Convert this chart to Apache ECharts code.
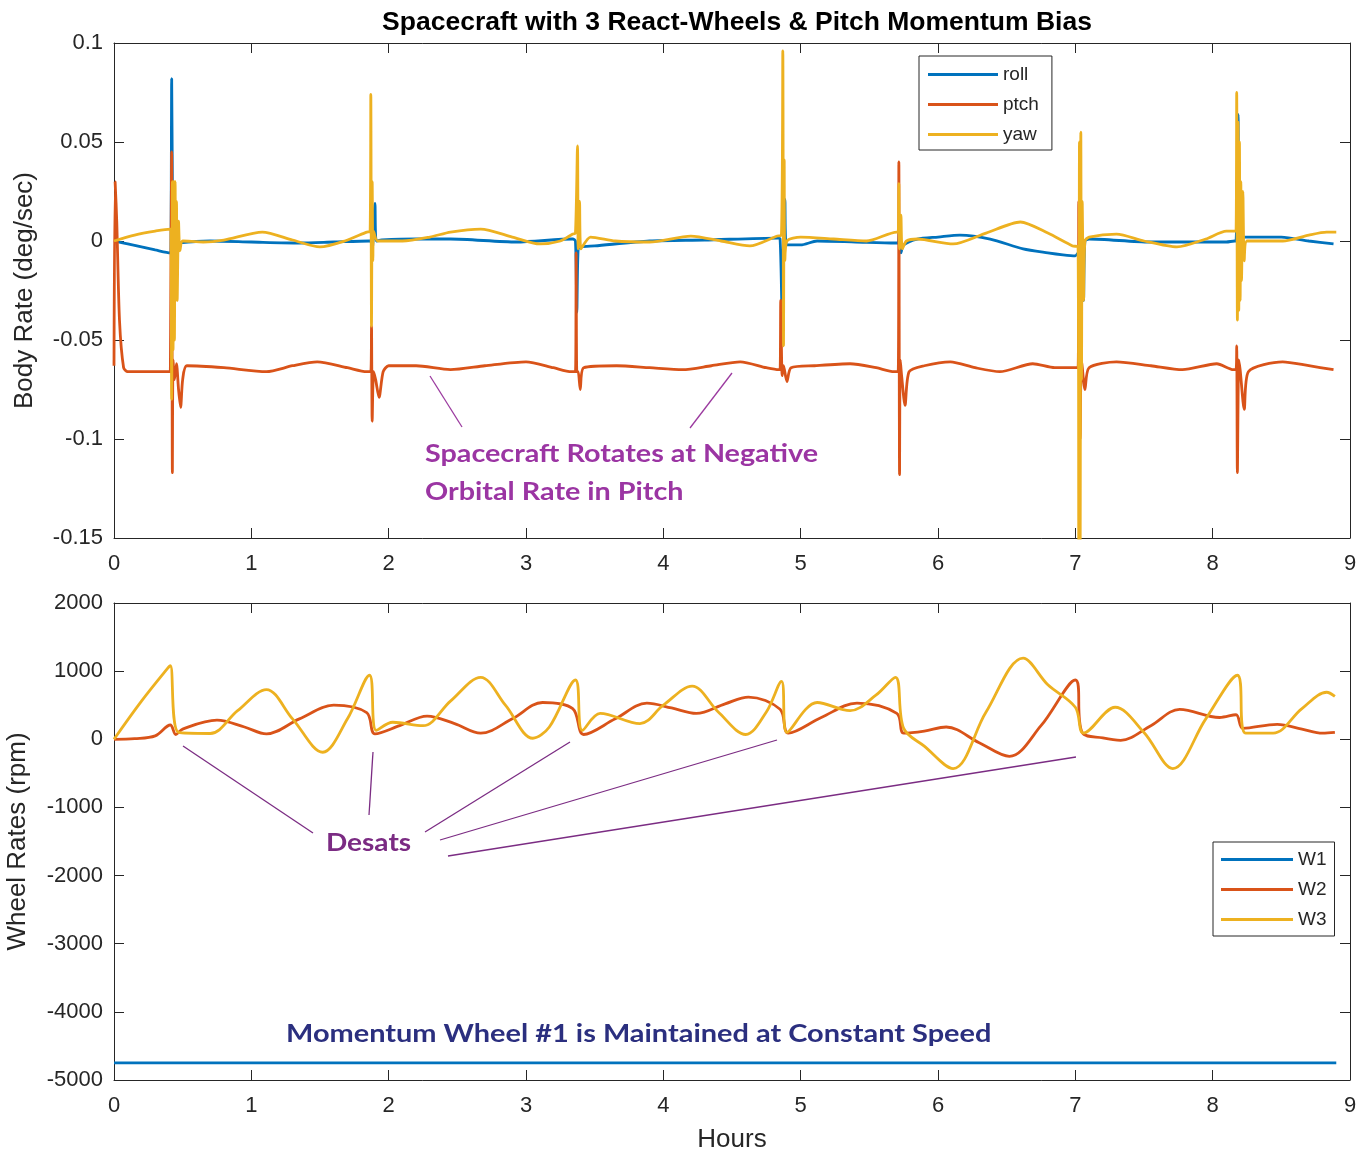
<!DOCTYPE html>
<html>
<head>
<meta charset="utf-8">
<script src="https://cdn.jsdelivr.net/npm/echarts@6/dist/echarts.min.js"></script>
<style>html,body{margin:0;padding:0;background:#fff}#c{width:1370px;height:1154px}</style>
</head>
<body>
<div id="c"></div>
<script>
// ---------- Data (hours, value) ----------
const hourTicks = [0,1,2,3,4,5,6,7,8,9];

const roll = [[0,0],[0.1,-0.0015],[0.2,-0.003],[0.3,-0.0045],[0.41,-0.006],
 [0.415,-0.004],[0.42,0.082],[0.425,0.03],[0.43,-0.004],[0.44,0.01],[0.45,-0.002],[0.48,-0.001],
 [0.7,0.0],[1.0,-0.0005],[1.35,-0.001],[1.6,-0.0005],[1.86,0.0],
 [1.87,0.0],[1.88,-0.005],[1.9,0.019],[1.91,0.0],[1.95,0.0005],
 [2.2,0.001],[2.45,0.001],[2.93,-0.0005],[3.34,0.001],
 [3.36,0.0],[3.37,-0.036],[3.38,-0.004],[3.4,-0.003],[3.5,-0.0025],
 [3.9,0.0],[4.3,0.0005],[4.83,0.0015],
 [4.85,0.001],[4.865,-0.037],[4.875,0.0],[4.885,0.021],[4.895,-0.002],[5.0,-0.002],
 [5.12,0.0],[5.4,-0.0005],[5.69,-0.001],
 [5.71,-0.001],[5.72,0.008],[5.73,-0.006],[5.75,-0.002],
 [5.85,0.001],[6.0,0.002],[6.16,0.003],[6.38,0.001],[6.62,-0.004],[6.8,-0.006],[6.91,-0.007],[7.0,-0.0075],
 [7.02,-0.006],[7.04,-0.045],[7.05,-0.005],[7.06,-0.03],[7.07,0.0],[7.1,0.001],
 [7.54,-0.0005],[8.1,-0.0005],[8.16,0.0],
 [8.17,0.0],[8.185,0.064],[8.19,0.0],[8.2,0.03],[8.21,0.002],
 [8.3,0.002],[8.5,0.002],[8.7,0.0],[8.88,-0.0015]];

const ptch = [[0,-0.063],[0.008,0.03],[0.02,0.01],[0.04,-0.04],[0.07,-0.064],[0.1,-0.066],[0.25,-0.066],[0.41,-0.066],
 [0.415,-0.066],[0.42,0.045],[0.425,-0.117],[0.43,-0.06],[0.44,-0.07],[0.455,-0.062],[0.47,-0.075],[0.485,-0.084],[0.5,-0.07],[0.53,-0.063],
 [0.8,-0.064],[1.11,-0.066],[1.3,-0.063],[1.48,-0.061],[1.7,-0.064],[1.84,-0.066],[1.87,-0.066],
 [1.875,-0.043],[1.88,-0.091],[1.89,-0.066],[1.905,-0.07],[1.93,-0.079],[1.96,-0.066],[2.0,-0.063],
 [2.2,-0.063],[2.45,-0.065],[2.7,-0.063],[3.0,-0.061],[3.2,-0.064],[3.33,-0.066],
 [3.36,-0.066],[3.365,-0.006],[3.37,-0.066],[3.38,-0.066],[3.395,-0.075],[3.42,-0.064],
 [3.66,-0.063],[3.9,-0.064],[4.14,-0.065],[4.35,-0.063],[4.56,-0.061],[4.75,-0.064],[4.84,-0.065],
 [4.85,-0.065],[4.855,-0.03],[4.865,-0.068],[4.875,-0.063],[4.9,-0.071],[4.93,-0.064],
 [5.1,-0.063],[5.36,-0.062],[5.55,-0.064],[5.68,-0.066],
 [5.71,-0.066],[5.715,0.04],[5.72,-0.118],[5.725,-0.06],[5.735,-0.068],[5.76,-0.083],[5.79,-0.066],
 [5.9,-0.063],[6.09,-0.061],[6.27,-0.064],[6.45,-0.066],[6.69,-0.062],[6.85,-0.064],[6.98,-0.064],
 [7.02,-0.064],[7.025,0.02],[7.035,-0.1],[7.045,-0.06],[7.07,-0.075],[7.1,-0.064],
 [7.3,-0.061],[7.55,-0.063],[7.78,-0.065],[8.03,-0.062],[8.15,-0.065],
 [8.17,-0.065],[8.175,-0.053],[8.18,-0.117],[8.19,-0.06],[8.2,-0.065],[8.23,-0.085],[8.26,-0.066],
 [8.51,-0.061],[8.7,-0.063],[8.88,-0.065]];

const yaw = [[0,0],[0.15,0.003],[0.3,0.005],[0.41,0.006],
 [0.415,0.005],[0.42,-0.08],[0.425,0.03],[0.43,-0.055],[0.435,0.03],[0.44,-0.05],[0.445,0.03],[0.45,-0.03],[0.455,0.02],[0.46,-0.03],[0.47,0.01],[0.48,-0.005],[0.5,0.0],
 [0.65,-0.0005],[0.8,0.0005],[1.08,0.0045],[1.3,0.0005],[1.5,-0.003],[1.68,0.0],[1.84,0.0045],
 [1.865,0.005],[1.87,0.074],[1.875,-0.043],[1.88,0.03],[1.885,-0.01],[1.89,0.005],[1.92,0.0],
 [2.1,0.0],[2.3,0.002],[2.45,0.0045],[2.67,0.006],[2.9,0.002],[3.1,-0.0015],[3.25,0.0],[3.34,0.0035],
 [3.36,0.004],[3.375,0.048],[3.38,-0.004],[3.39,0.02],[3.4,-0.004],[3.47,0.002],
 [3.65,0.0],[3.9,-0.0005],[4.2,0.0025],[4.42,0.0],[4.63,-0.0025],[4.83,0.0025],
 [4.86,0.003],[4.87,0.096],[4.875,-0.053],[4.88,0.041],[4.885,-0.01],[4.9,0.0],[5.0,0.002],
 [5.24,0.001],[5.48,0.0],[5.7,0.0045],
 [5.71,0.0045],[5.715,0.029],[5.72,-0.004],[5.73,0.013],[5.74,-0.004],[5.77,0.0],
 [5.85,0.001],[6.11,-0.0015],[6.35,0.004],[6.6,0.0096],[6.8,0.004],[6.98,-0.0025],
 [7.02,-0.003],[7.025,-0.16],[7.03,0.05],[7.035,-0.16],[7.04,0.055],[7.045,-0.07],[7.05,0.02],[7.06,-0.03],[7.07,0.0],[7.1,0.002],
 [7.3,0.0035],[7.5,0.0],[7.74,-0.003],[7.95,0.001],[8.1,0.005],[8.16,0.005],
 [8.17,0.005],[8.175,0.075],[8.18,-0.04],[8.185,0.06],[8.19,-0.035],[8.195,0.05],[8.2,-0.03],[8.205,0.03],[8.21,-0.02],[8.22,0.025],[8.23,-0.01],[8.25,0.0],
 [8.51,0.0],[8.7,0.003],[8.83,0.0045],[8.9,0.0045]];

const W1 = [[0,-4750],[8.9,-4750]];

const W2 = [[0,0],[0.15,10],[0.3,50],[0.41,210],[0.45,70],[0.5,150],[0.75,280],[0.95,180],[1.11,80],[1.35,300],[1.6,500],[1.84,390],[1.9,80],
 [2.08,200],[2.28,340],[2.48,230],[2.67,90],[2.9,300],[3.12,540],[3.34,450],[3.42,70],[3.65,300],[3.88,530],[4.06,460],[4.24,380],
 [4.45,520],[4.62,620],[4.85,440],[4.91,90],[5.15,320],[5.41,530],[5.7,380],[5.75,90],[5.9,120],[6.06,180],[6.3,-50],[6.52,-250],
 [6.75,200],[7.0,870],[7.05,100],[7.2,20],[7.33,-15],[7.55,200],[7.76,440],[8.05,320],[8.17,360],[8.22,160],[8.47,220],[8.65,150],[8.8,90],[8.89,100]];

const W3 = [[0,0],[0.2,560],[0.39,1040],[0.41,1080],[0.47,100],[0.7,85],[0.9,420],[1.11,730],[1.3,300],[1.52,-190],[1.7,300],[1.86,940],[1.91,130],
 [2.03,250],[2.25,200],[2.45,560],[2.67,910],[2.85,500],[3.05,15],[3.17,180],[3.36,870],[3.41,130],[3.54,380],[3.83,230],[4.0,500],[4.21,780],
 [4.4,400],[4.6,70],[4.75,400],[4.86,850],[4.9,100],[5.12,540],[5.36,420],[5.55,650],[5.69,910],[5.75,160],[5.9,-100],[6.11,-430],[6.35,400],
 [6.62,1190],[6.8,800],[7.0,470],[7.06,90],[7.29,470],[7.5,100],[7.71,-430],[7.95,300],[8.18,940],[8.24,90],[8.44,90],[8.65,450],[8.83,690],[8.89,630]];

// ---------- Styling ----------
const C_BLUE = '#0072BD', C_RED = '#D95319', C_YEL = '#EDB120';
const AX = '#262626';
const FONT = 'Liberation Sans';
const fmt = v => String(+v.toFixed(4));

function xAxis(grid, show, pos) {
  return {type:'value', gridIndex:grid, min:0, max:9, interval:1, position:pos,
    axisLine:{show:true, onZero:false, lineStyle:{color:AX, width:1}},
    axisTick:{show:true, inside:true, length:10, lineStyle:{color:AX}},
    axisLabel:{show:show, color:AX, fontSize:22, fontFamily:FONT, margin:15, formatter:fmt},
    splitLine:{show:false}};
}
function yAxis(grid, min, max, interval, show, pos, name) {
  return {type:'value', gridIndex:grid, min:min, max:max, interval:interval, position:pos,
    name:name||'', nameLocation:'middle', nameGap: grid===0?76:83,
    nameTextStyle:{color:AX, fontSize:26, fontFamily:FONT},
    axisLine:{show:true, onZero:false, lineStyle:{color:AX, width:1}},
    axisTick:{show:true, inside:true, length:10, lineStyle:{color:AX}},
    axisLabel:{show:show, color:AX, fontSize:22, fontFamily:FONT, margin:11, formatter:fmt},
    splitLine:{show:false}};
}
function line(name, data, color, xi, yi, smooth) {
  return {name:name, type:'line', data:data, xAxisIndex:xi, yAxisIndex:yi,
    symbol:'none', showSymbol:false, smooth:smooth||false, clip:true,
    lineStyle:{color:color, width:2.8}, itemStyle:{color:color}, animation:false};
}

const chart = echarts.init(document.getElementById('c'), null, {renderer:'canvas'});
const option = {
  animation:false,
  backgroundColor:'#ffffff',
  title:{text:'Spacecraft with 3 React-Wheels & Pitch Momentum Bias', left:732, top:4, textAlign:'center',
    textStyle:{fontSize:26.5, fontWeight:'bold', color:'#000', fontFamily:FONT}},
  grid:[{left:114, top:43, width:1236, height:495, outerBoundsMode:'none', containLabel:false},
        {left:114, top:603, width:1236, height:477, outerBoundsMode:'none', containLabel:false}],
  xAxis:[xAxis(0,true,'bottom'), xAxis(1,true,'bottom'), xAxis(0,false,'top'), xAxis(1,false,'top')],
  yAxis:[yAxis(0,-0.15,0.1,0.05,true,'left','Body Rate (deg/sec)'),
         yAxis(1,-5000,2000,1000,true,'left','Wheel Rates (rpm)'),
         yAxis(0,-0.15,0.1,0.05,false,'right'),
         yAxis(1,-5000,2000,1000,false,'right')],
  legend:[
    {data:['roll','ptch','yaw'], orient:'vertical', left:919, top:56, icon:'rect', itemWidth:70, itemHeight:3, itemGap:11,
     padding:[9,13,6,9], borderColor:AX, borderWidth:1, backgroundColor:'#fff',
     textStyle:{fontSize:19, color:AX, fontFamily:FONT}},
    {data:['W1','W2','W3'], orient:'vertical', left:1213, top:842, icon:'rect', itemWidth:72, itemHeight:3, itemGap:11,
     padding:[8,8,7,8], borderColor:AX, borderWidth:1, backgroundColor:'#fff',
     textStyle:{fontSize:19, color:AX, fontFamily:FONT}}
  ],
  series:[
    line('roll', roll, C_BLUE, 0, 0, 0.25),
    line('ptch', ptch, C_RED, 0, 0, 0.25),
    line('yaw', yaw, C_YEL, 0, 0, 0.25),
    line('W1', W1, C_BLUE, 1, 1),
    line('W2', W2, C_RED, 1, 1, 0.35),
    line('W3', W3, C_YEL, 1, 1, 0.35)
  ],
  graphic:[
    {type:'text', x:732, y:1127, style:{text:'Hours', fill:AX, font:'26px "Liberation Sans"', textAlign:'center'}},
    {type:'line', shape:{x1:430,y1:376,x2:462,y2:427}, style:{stroke:'#9b3a9f', lineWidth:1.3}},
    {type:'line', shape:{x1:732,y1:373,x2:690,y2:428}, style:{stroke:'#9b3a9f', lineWidth:1.3}},
    {type:'text', x:425, y:435, scaleX:1.15, style:{text:'Spacecraft Rotates at Negative\nOrbital Rate in Pitch', fill:'#9b35a3',
      font:'bold 25px Lato', lineHeight:38}},
    {type:'line', shape:{x1:183,y1:746,x2:313,y2:833}, style:{stroke:'#7b2c83', lineWidth:1.3}},
    {type:'line', shape:{x1:373,y1:752,x2:369,y2:815}, style:{stroke:'#7b2c83', lineWidth:1.3}},
    {type:'line', shape:{x1:570,y1:742,x2:425,y2:832}, style:{stroke:'#7b2c83', lineWidth:1.3}},
    {type:'line', shape:{x1:777,y1:740,x2:440,y2:840}, style:{stroke:'#7b2c83', lineWidth:1.3}},
    {type:'line', shape:{x1:1076,y1:757,x2:448,y2:856}, style:{stroke:'#7b2c83', lineWidth:1.3}},
    {type:'text', x:326, y:830, scaleX:1.12, style:{text:'Desats', fill:'#7b2b83', font:'bold 25px Lato'}},
    {type:'text', x:286, y:1021, scaleX:1.157, style:{text:'Momentum Wheel #1 is Maintained at Constant Speed', fill:'#2b2f7f', font:'bold 25px Lato'}}
  ]
};
chart.setOption(option);
</script>
</body>
</html>
